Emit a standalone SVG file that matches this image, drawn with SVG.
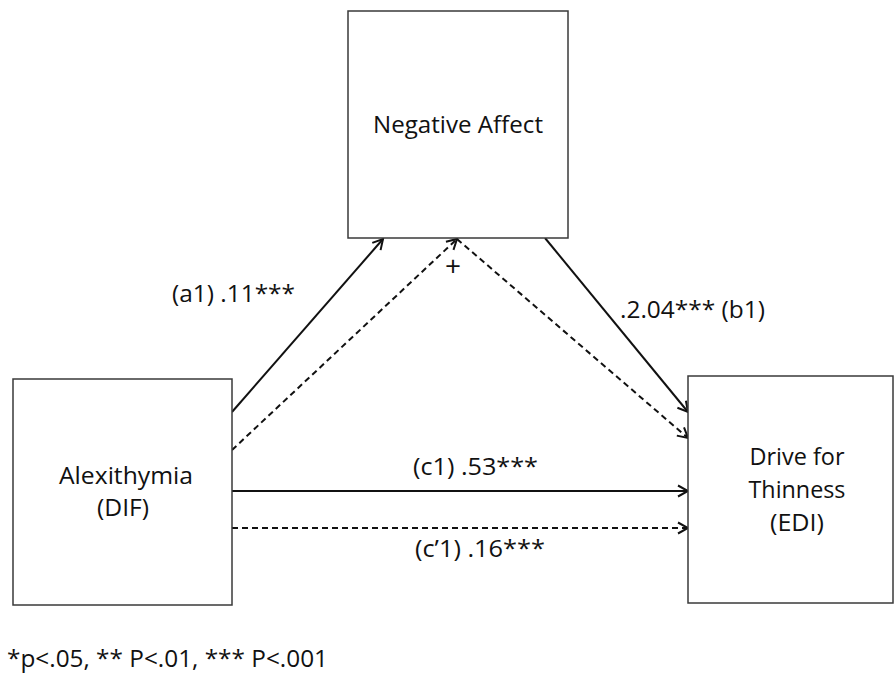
<svg xmlns="http://www.w3.org/2000/svg" width="895" height="676" viewBox="0 0 895 676">
<style>
.box{fill:#fff;stroke:#3a3a3a;stroke-width:1.5}
.t{font-family:"Open Sans","Liberation Sans",sans-serif;font-size:23px;fill:#111}
.c{text-anchor:middle}
.ln{stroke:#111;stroke-width:2;fill:none;marker-end:url(#ah)}
.ds{stroke-dasharray:6 4}
</style>
<defs>
<marker id="ah" markerUnits="userSpaceOnUse" markerWidth="14" markerHeight="14" viewBox="-12 -7 14 14" refX="0" refY="0" orient="auto">
<path d="M-10,-5.5 L0,0 L-10,5.5" fill="none" stroke="#111" stroke-width="2"/>
</marker>
</defs>
<rect width="895" height="676" fill="#fff"/>
<g id="connectors">
<line class="ln" x1="232" y1="412" x2="383" y2="239"/>
<line class="ln ds" x1="232" y1="450" x2="457" y2="239"/>
<line class="ln ds" x1="457" y1="239" x2="688" y2="438"/>
<line class="ln" x1="545" y1="238" x2="688" y2="412"/>
<line class="ln" x1="232" y1="491" x2="688" y2="491"/>
<line class="ln ds" x1="232" y1="528" x2="688" y2="528"/>
<text class="t c" x="453" y="276" style="font-size:28px">+</text>
<text class="t" x="172" y="302" textLength="123" lengthAdjust="spacingAndGlyphs">(a1) .11***</text>
<text class="t" x="620" y="318" textLength="145" lengthAdjust="spacingAndGlyphs">.2.04*** (b1)</text>
<text class="t" x="413" y="475" textLength="125" lengthAdjust="spacingAndGlyphs">(c1) .53***</text>
<text class="t" x="415" y="557" textLength="130" lengthAdjust="spacingAndGlyphs">(c’1) .16***</text>
</g>
<g id="negative-affect">
<rect class="box" x="348" y="11" width="220" height="227"/>
<text class="t c" x="458" y="133" textLength="170" lengthAdjust="spacingAndGlyphs">Negative Affect</text>
</g>
<g id="alexithymia">
<rect class="box" x="13" y="379" width="219" height="226"/>
<text class="t c" x="126" y="484" textLength="134" lengthAdjust="spacingAndGlyphs">Alexithymia</text>
<text class="t c" x="123" y="516" textLength="52" lengthAdjust="spacingAndGlyphs">(DIF)</text>
</g>
<g id="drive-for-thinness">
<rect class="box" x="688" y="376" width="205" height="227"/>
<text class="t c" x="797" y="465" textLength="95" lengthAdjust="spacingAndGlyphs">Drive for</text>
<text class="t c" x="797" y="498" textLength="97" lengthAdjust="spacingAndGlyphs">Thinness</text>
<text class="t c" x="797" y="531" textLength="54" lengthAdjust="spacingAndGlyphs">(EDI)</text>
</g>
<g id="footnote">
<text class="t" x="7" y="667" textLength="321" lengthAdjust="spacingAndGlyphs">*p&lt;.05, ** P&lt;.01, *** P&lt;.001</text>
</g>
</svg>
